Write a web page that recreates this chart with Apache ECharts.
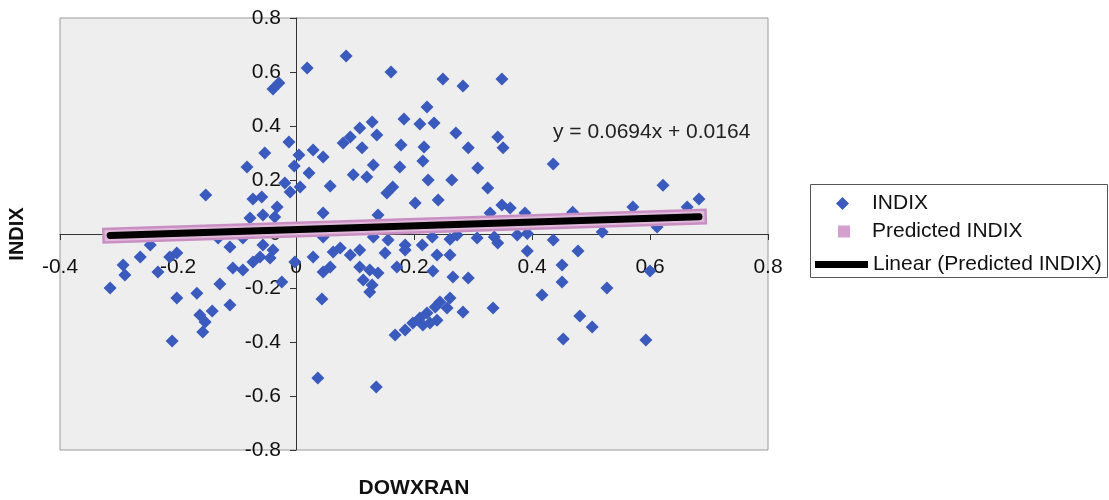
<!DOCTYPE html>
<html>
<head>
<meta charset="utf-8">
<title>INDIX vs DOWXRAN</title>
<script src="https://cdn.jsdelivr.net/npm/echarts@6/dist/echarts.min.js"></script>
<style>
  html, body { margin: 0; padding: 0; background: #fff; }
  #chart { width: 1109px; height: 500px; }
</style>
</head>
<body>
<div id="chart"></div>
<script>
// DOWXRAN (x) and INDIX (y)
const dowxran = [
  -0.039, -0.029, -0.012, -0.053, -0.083, -0.019, -0.010, -0.153, -0.073, -0.058, -0.032, -0.056, -0.078, -0.036, -0.003,
  0.085, 0.019, 0.161, 0.249, 0.283, 0.349, 0.222, 0.183, 0.210, 0.234, 0.129, 0.137, 0.108, 0.092, 0.080,
  0.112, 0.271, 0.342, 0.351, 0.292, 0.178, 0.217, 0.215, 0.029, 0.046, 0.005, 0.022, 0.131, 0.097, 0.120,
  0.176, 0.308, 0.224, 0.264, 0.058, 0.007, 0.164, 0.154, 0.325, 0.202, 0.241, 0.349, 0.046, 0.139, 0.329, 0.363,
  0.436, 0.622, 0.683, 0.663, 0.571, 0.388, 0.469, 0.612, 0.519, 0.375, 0.392, 0.436,
  0.046, 0.131, 0.156, 0.185, 0.214, 0.231, 0.261, 0.273, 0.307, 0.336, 0.342, 0.392, 0.478,
  0.239, 0.261, 0.232, 0.266, 0.292, 0.451, 0.451, 0.600, 0.527, 0.417, 0.261, 0.244, 0.283, 0.334, 0.481, 0.502, 0.453, 0.593,
  0.236, 0.256, 0.222, 0.210, 0.198, 0.185, 0.168, 0.239, 0.227, 0.215,
  -0.002, 0.029, 0.063, 0.075, 0.092, 0.108, 0.046, 0.058, 0.108, 0.125, 0.139, 0.114, 0.129, 0.125, 0.151, 0.185, 0.171, 0.044, 0.037, 0.136,
  -0.315, -0.293, -0.290, -0.264, -0.247, -0.214, -0.202, -0.234, -0.202, -0.168, -0.129, -0.112, -0.163, -0.142,
  -0.158, -0.210, -0.107, -0.090, -0.073, -0.061, -0.056, -0.039, -0.044, -0.024, -0.112, -0.132, -0.090, -0.154
]
const indix = [
  0.537, 0.559, 0.341, 0.300, 0.248, 0.189, 0.156, 0.144, 0.130, 0.137, 0.100, 0.070, 0.059, 0.063, 0.252,
  0.659, 0.615, 0.600, 0.574, 0.548, 0.574, 0.470, 0.426, 0.407, 0.411, 0.415, 0.367, 0.393, 0.359, 0.337,
  0.319, 0.374, 0.359, 0.319, 0.319, 0.330, 0.322, 0.270, 0.311, 0.285, 0.293, 0.226, 0.256, 0.219, 0.211,
  0.248, 0.244, 0.200, 0.200, 0.178, 0.174, 0.174, 0.152, 0.170, 0.115, 0.126, 0.107, 0.078, 0.070, 0.078, 0.096,
  0.259, 0.181, 0.130, 0.100, 0.100, 0.078, 0.081, 0.026, 0.007, -0.004, 0.002, -0.022,
  -0.011, -0.011, -0.022, -0.041, -0.041, -0.011, -0.019, -0.004, -0.015, -0.011, -0.033, -0.063, -0.063,
  -0.078, -0.078, -0.137, -0.159, -0.163, -0.115, -0.178, -0.137, -0.200, -0.226, -0.237, -0.252, -0.289, -0.274, -0.304, -0.344, -0.389, -0.393,
  -0.270, -0.274, -0.293, -0.311, -0.330, -0.356, -0.374, -0.319, -0.330, -0.337,
  -0.104, -0.085, -0.067, -0.052, -0.078, -0.059, -0.141, -0.122, -0.122, -0.133, -0.144, -0.170, -0.189, -0.215, -0.070, -0.059, -0.122, -0.241, -0.533, -0.567,
  -0.200, -0.115, -0.152, -0.085, -0.041, -0.085, -0.070, -0.141, -0.237, -0.219, -0.185, -0.263, -0.300, -0.285,
  -0.363, -0.396, -0.126, -0.133, -0.104, -0.085, -0.041, -0.059, -0.089, -0.178, -0.048, -0.015, -0.015, -0.326
]
// predicted INDIX at the smallest and largest DOWXRAN
const predX = [-0.315, 0.683]
const predY = [-0.0055, 0.0638]
const equation = 'y = 0.0694x + 0.0164'
const xRange = [-0.4, 0.8]
const yRange = [-0.8, 0.8]
const tickStep = 0.2

const FONT = '"Liberation Sans", Arial, sans-serif'

let chart = echarts.init(document.getElementById('chart'))

let points = dowxran.map((x, i) => [x, indix[i]])
let predicted = predX.map((x, i) => [x, predY[i]])

let tickFmt = v => String(Math.round(v * 10) / 10)

let axisCommon = {
  type: 'value',
  interval: tickStep,
  splitLine: { show: false },
  axisLine: { onZero: true, lineStyle: { color: '#333', width: 1 } },
  axisTick: { length: 6, lineStyle: { color: '#333' } }
}

let legendCommon = {
  orient: 'vertical',
  padding: 0,
  selectedMode: false,
  symbolKeepAspect: false,
  textStyle: { fontFamily: FONT, fontSize: 21, color: '#111' }
}

let option = {
  animation: false,
  textStyle: { fontFamily: FONT },
  grid: {
    left: 60,
    right: 341,
    top: 18,
    bottom: 50,
    show: true,
    backgroundColor: '#eeeeee',
    borderColor: '#9a9a9a',
    borderWidth: 1
  },
  // labels sit at the grid edge, so pull them in next to the crossing axes
  xAxis: Object.assign({}, axisCommon, {
    min: xRange[0],
    max: xRange[1],
    axisLabel: { fontSize: 21, color: '#111', margin: -193, formatter: tickFmt }
  }),
  yAxis: Object.assign({}, axisCommon, {
    min: yRange[0],
    max: yRange[1],
    axisLabel: { fontSize: 21, color: '#111', margin: -221, formatter: tickFmt }
  }),
  legend: [
    Object.assign({}, legendCommon, {
      left: 836,
      top: 193,
      itemWidth: 13,
      itemHeight: 13,
      data: [{ name: 'INDIX', icon: 'diamond' }],
      textStyle: Object.assign({}, legendCommon.textStyle, { padding: [0, 0, 0, 18] })
    }),
    Object.assign({}, legendCommon, {
      left: 838,
      top: 221,
      itemWidth: 12,
      itemHeight: 12,
      data: [{ name: 'Predicted INDIX', icon: 'rect', itemStyle: { color: '#d4a0cf' } }],
      textStyle: Object.assign({}, legendCommon.textStyle, { padding: [0, 0, 0, 17] })
    }),
    Object.assign({}, legendCommon, {
      left: 815,
      top: 254,
      itemWidth: 53,
      itemHeight: 7,
      data: [{ name: 'Linear (Predicted INDIX)', icon: 'rect', itemStyle: { color: '#000' } }]
    })
  ],
  graphic: [
    {
      type: 'rect',
      left: 810,
      top: 184,
      z: 1,
      shape: { width: 297, height: 93 },
      style: { fill: '#fff', stroke: '#555', lineWidth: 1 }
    },
    {
      type: 'text',
      left: 553,
      top: 122,
      z: 10,
      style: { text: equation, font: '21px ' + FONT, fill: '#222' }
    },
    {
      type: 'text',
      x: 414,
      y: 488,
      style: { text: 'DOWXRAN', font: 'bold 21px ' + FONT, fill: '#111', align: 'center', verticalAlign: 'middle' }
    },
    {
      type: 'text',
      x: 17,
      y: 234,
      rotation: Math.PI / 2,
      style: { text: 'INDIX', font: 'bold 20px ' + FONT, fill: '#111', align: 'center', verticalAlign: 'middle' }
    }
  ],
  series: [
    {
      name: 'INDIX',
      type: 'scatter',
      symbol: 'diamond',
      symbolSize: 13,
      itemStyle: { color: '#3a5abd', opacity: 1 },
      data: points,
      z: 2
    },
    {
      name: 'Predicted INDIX',
      type: 'line',
      symbol: 'none',
      itemStyle: { color: '#d4a0cf' },
      lineStyle: { width: 16, color: '#c98fc3', cap: 'square' },
      data: predicted,
      z: 3
    },
    {
      // lighter middle of the predicted band
      name: 'predicted band',
      type: 'line',
      symbol: 'none',
      lineStyle: { width: 11, color: '#e0b9da', cap: 'square' },
      data: predicted,
      z: 3
    },
    {
      name: 'Linear (Predicted INDIX)',
      type: 'line',
      symbol: 'none',
      itemStyle: { color: '#000' },
      lineStyle: { width: 7, color: '#000', cap: 'round' },
      data: predicted,
      z: 4
    }
  ]
}

chart.setOption(option)
</script>
</body>
</html>
